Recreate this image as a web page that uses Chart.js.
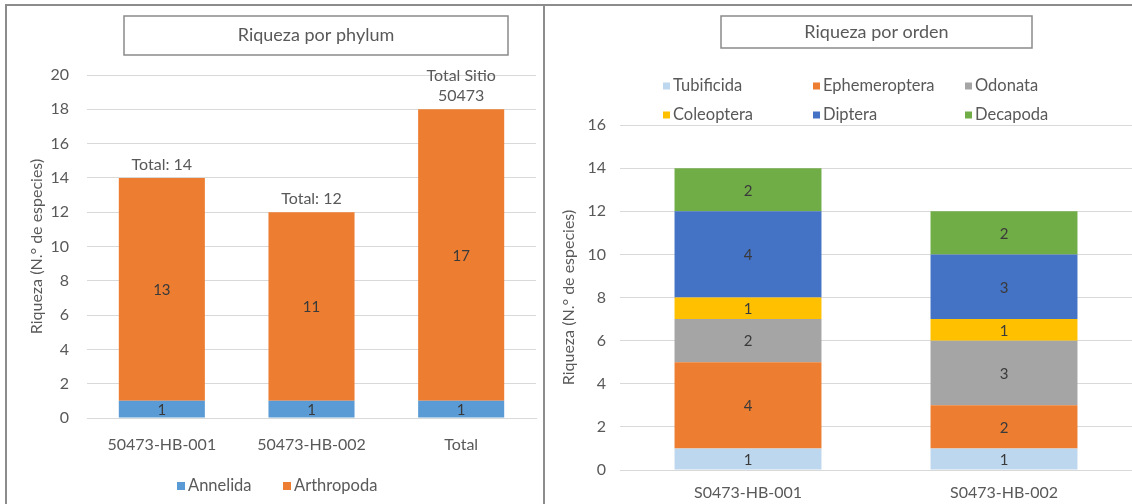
<!DOCTYPE html>
<html>
<head>
<meta charset="utf-8">
<script src="https://cdn.jsdelivr.net/npm/chart.js@4.4.1/dist/chart.umd.min.js"></script>
<style>
  html, body { margin: 0; padding: 0; background: #fff; }
  body { width: 1132px; height: 504px; position: relative; overflow: hidden; }
  .wrap { position: absolute; top: 0; height: 504px; }
  #wrapA { left: 0; width: 543px; }
  #wrapB { left: 545px; width: 587px; }
  .frame { position: absolute; box-sizing: border-box; border: 2px solid #8c8c8c; pointer-events: none; }
  #frameA { left: 5px; top: 4px; width: 540px; height: 520px; }
  #frameB { left: 543px; top: 4px; width: 600px; height: 520px; border-right: none; border-bottom: none; }
</style>
</head>
<body>
<div class="wrap" id="wrapA"><canvas id="phylum"></canvas></div>
<div class="wrap" id="wrapB"><canvas id="orden"></canvas></div>
<div class="frame" id="frameA"></div>
<div class="frame" id="frameB"></div>
<script>
// ---- Riqueza por phylum ----
const phylumSites = ['50473-HB-001', '50473-HB-002', 'Total'];
const annelida = [1, 1, 1];
const arthropoda = [13, 11, 17];
const phylumTotalPrefix = ['Total: ', 'Total: ', null];
const siteTotalLabel = ['Total Sitio', '50473'];

// ---- Riqueza por orden ----
const ordenSites = ['S0473-HB-001', 'S0473-HB-002'];
const tubificida = [1, 1];
const ephemeroptera = [4, 2];
const odonata = [2, 3];
const coleoptera = [1, 1];
const diptera = [4, 3];
const decapoda = [2, 2];

const FONT = 'Lato, "Open Sans", sans-serif';
const TXT = '#595959';
const GRID = '#d9d9d9';
const yTitle = 'Riqueza (N.° de especies)';

// Title drawn inside a framed box
const boxTitle = {
  id: 'boxTitle',
  afterDraw(chart, args, o) {
    const ctx = chart.ctx;
    ctx.save();
    ctx.strokeStyle = '#8a8a8a';
    ctx.lineWidth = 1.5;
    ctx.strokeRect(o.x, o.y, o.w, o.h);
    ctx.fillStyle = TXT;
    ctx.font = o.size + 'px ' + FONT;
    ctx.textAlign = 'center';
    ctx.textBaseline = 'middle';
    ctx.fillText(o.text, o.x + o.w / 2, o.y + o.h / 2);
    ctx.restore();
  }
};

// Value printed in the middle of each stacked segment
const segmentValues = {
  id: 'segmentValues',
  afterDatasetsDraw(chart, args, o) {
    const ctx = chart.ctx;
    ctx.save();
    ctx.fillStyle = '#3a3a3a';
    ctx.font = o.size + 'px ' + FONT;
    ctx.textAlign = 'center';
    ctx.textBaseline = 'middle';
    chart.data.datasets.forEach((ds, i) => {
      const meta = chart.getDatasetMeta(i);
      meta.data.forEach((bar, j) => {
        const v = ds.data[j];
        if (!v) return;
        ctx.fillText(String(v), bar.x, (bar.y + bar.base) / 2 + 1);
      });
    });
    ctx.restore();
  }
};

// Totals written above each stack
const stackTotals = {
  id: 'stackTotals',
  afterDatasetsDraw(chart, args, o) {
    if (!o.enabled) return;
    const ctx = chart.ctx;
    const n = chart.data.labels.length;
    const last = chart.getDatasetMeta(chart.data.datasets.length - 1);
    ctx.save();
    ctx.fillStyle = TXT;
    ctx.font = o.size + 'px ' + FONT;
    ctx.textAlign = 'center';
    ctx.textBaseline = 'middle';
    for (let j = 0; j < n; j++) {
      const sum = chart.data.datasets.reduce((s, ds) => s + ds.data[j], 0);
      const top = last.data[j].y;
      const x = last.data[j].x;
      const lines = o.prefix[j] !== null ? [o.prefix[j] + sum] : o.custom;
      lines.forEach((t, k) => {
        ctx.fillText(t, x, top - o.gap - (lines.length - 1 - k) * o.lineH);
      });
    }
    ctx.restore();
  }
};

// Legend laid out on a fixed grid of columns and rows
const gridLegend = {
  id: 'gridLegend',
  afterDraw(chart, args, o) {
    const ctx = chart.ctx;
    ctx.save();
    ctx.font = o.size + 'px ' + FONT;
    ctx.textBaseline = 'middle';
    ctx.textAlign = 'left';
    chart.data.datasets.forEach((ds, i) => {
      const col = i % o.cols.length;
      const row = Math.floor(i / o.cols.length);
      const x = o.cols[col], y = o.rows[row];
      ctx.fillStyle = ds.backgroundColor;
      ctx.fillRect(x, y - o.box / 2, o.box, o.box);
      ctx.fillStyle = TXT;
      ctx.fillText(ds.label, x + o.box + 3, y);
    });
    ctx.restore();
  }
};

function axes(cfg) {
  return {
    x: {
      stacked: true,
      afterFit(s) { s.height = cfg.xH; },
      grid: { display: false, drawTicks: false },
      border: { display: true, color: GRID, width: 1 },
      ticks: { color: TXT, font: { family: FONT, size: 16 }, padding: cfg.xPad, maxRotation: 0 }
    },
    y: {
      stacked: true,
      min: 0,
      max: cfg.max,
      afterFit(s) { s.width = cfg.yW; },
      grid: { color: GRID, lineWidth: 1, drawTicks: false },
      border: { display: false },
      ticks: { stepSize: 2, color: TXT, font: { family: FONT, size: 16 }, padding: cfg.yPad },
      title: { display: true, text: yTitle, color: TXT, font: { family: FONT, size: 16 }, padding: { top: cfg.tPad, bottom: 0 } }
    }
  };
}

new Chart(document.getElementById('phylum'), {
  type: 'bar',
  data: {
    labels: phylumSites,
    datasets: [
      { label: 'Annelida', data: annelida, backgroundColor: '#5b9bd5' },
      { label: 'Arthropoda', data: arthropoda, backgroundColor: '#ed7d31' }
    ]
  },
  options: {
    responsive: true,
    maintainAspectRatio: false,
    animation: false,
    events: [],
    layout: { padding: { top: 75, right: 7, bottom: 0, left: 0 } },
    datasets: { bar: { categoryPercentage: 1, barPercentage: 0.575 } },
    scales: axes({ xH: 86, xPad: 17, max: 20, yW: 87, yPad: 18, tPad: 27 }),
    plugins: {
      legend: { display: false },
      tooltip: { enabled: false },
      boxTitle: { text: 'Riqueza por phylum', x: 124, y: 16, w: 384, h: 39, size: 18 },
      segmentValues: { size: 15 },
      stackTotals: { enabled: true, prefix: phylumTotalPrefix, custom: siteTotalLabel, size: 16, gap: 13, lineH: 20 },
      gridLegend: { cols: [177, 283], rows: [486], box: 8, size: 16.5 }
    }
  },
  plugins: [boxTitle, segmentValues, stackTotals, gridLegend]
});

new Chart(document.getElementById('orden'), {
  type: 'bar',
  data: {
    labels: ordenSites,
    datasets: [
      { label: 'Tubificida', data: tubificida, backgroundColor: '#bdd7ee' },
      { label: 'Ephemeroptera', data: ephemeroptera, backgroundColor: '#ed7d31' },
      { label: 'Odonata', data: odonata, backgroundColor: '#a5a5a5' },
      { label: 'Coleoptera', data: coleoptera, backgroundColor: '#ffc000' },
      { label: 'Diptera', data: diptera, backgroundColor: '#4472c4' },
      { label: 'Decapoda', data: decapoda, backgroundColor: '#70ad47' }
    ]
  },
  options: {
    responsive: true,
    maintainAspectRatio: false,
    animation: false,
    events: [],
    layout: { padding: { top: 125, right: 0, bottom: 0, left: 0 } },
    datasets: { bar: { categoryPercentage: 1, barPercentage: 0.574 } },
    scales: axes({ xH: 34, xPad: 13, max: 16, yW: 75, yPad: 14, tPad: 14 }),
    plugins: {
      legend: { display: false },
      tooltip: { enabled: false },
      boxTitle: { text: 'Riqueza por orden', x: 176, y: 16, w: 311, h: 32, size: 18 },
      segmentValues: { size: 15 },
      stackTotals: { enabled: false },
      gridLegend: { cols: [118, 268, 420], rows: [86, 115], box: 7, size: 16.5 }
    }
  },
  plugins: [boxTitle, segmentValues, stackTotals, gridLegend]
});
</script>
</body>
</html>
